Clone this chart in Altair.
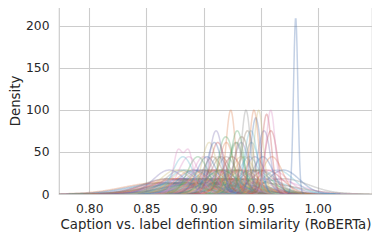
import altair as alt
import pandas as pd

# Sample values per curve (each inner list = one label's similarity samples),
# grouped by the KDE bandwidth that reproduces the curve widths in the picture.
spike_curves = [[0.9807]]
narrow_curves = [
    [0.9238], [0.9265, 0.9325], [0.9540, 0.9565], [0.9500, 0.9560],
    [0.9355, 0.9415], [0.8775, 0.8870], [0.9372], [0.9483],
    [0.9385, 0.9445], [0.9440, 0.9475], [0.9442], [0.9160, 0.9230],
    [0.9560, 0.9620], [0.9080, 0.9140], [0.9300, 0.9370], [0.9588],
]
medium_curves = [
    [0.9280], [0.9050], [0.9420], [0.9095], [0.9200], [0.9290],
    [0.9125], [0.9330],
]
mid_curves = [
    [0.9155], [0.9000], [0.9200], [0.9330], [0.9400], [0.9520],
    [0.9600], [0.8950], [0.9250], [0.9450], [0.9080], [0.8870],
    [0.9130], [0.9360], [0.8820], [0.9030],
]
wide_curves = [
    [0.8900], [0.9000], [0.9100], [0.9200], [0.9300], [0.9400],
    [0.9500], [0.8850], [0.9050], [0.9150], [0.9350], [0.9450],
    [0.9550], [0.8950], [0.9250], [0.9600], [0.8800], [0.9180],
    [0.9650], [0.9700], [0.9020], [0.9280], [0.9120], [0.8980],
    [0.9420], [0.9220], [0.9080], [0.8760], [0.8830], [0.8920],
    [0.9060], [0.9160], [0.9320], [0.8700], [0.9480],
]
broad_curves = [
    [0.8800], [0.8900], [0.9000], [0.9100], [0.9200], [0.9300],
    [0.9400], [0.8700], [0.8950], [0.9250], [0.9050], [0.9150],
    [0.9350], [0.9500], [0.8850], [0.8750], [0.9080], [0.9180],
    [0.8980], [0.9280], [0.9600], [0.9700], [0.8880, 0.9300],
    [0.9000, 0.9450], [0.8800, 0.9200], [0.9120], [0.9020],
    [0.8780], [0.8830], [0.8930], [0.9070], [0.8680], [0.9220],
]
vbroad_curves = [
    [0.8700], [0.8800], [0.8900], [0.9000], [0.9100], [0.9200],
    [0.9500], [0.8750], [0.8850], [0.8950], [0.9050], [0.8650],
    [0.8600], [0.8820],
]

groups = [
    ("spike", spike_curves, 0.0019),
    ("narrow", narrow_curves, 0.004),
    ("medium", medium_curves, 0.0065),
    ("mid", mid_curves, 0.009),
    ("wide", wide_curves, 0.014),
    ("broad", broad_curves, 0.022),
    ("vbroad", vbroad_curves, 0.030),
]

rows = []
k = 0
for gname, curves, _bw in groups:
    for samples in curves:
        for v in samples:
            rows.append({"curve": f"c{k:03d}", "value": v, "grp": gname})
        k += 1
df = pd.DataFrame(rows)

palette = ["#4C72B0", "#DD8452", "#55A868", "#C44E52", "#8172B3",
           "#937860", "#DA8BC3", "#8C8C8C", "#CCB974", "#64B5CD"]
domain = sorted(df["curve"].unique())

x_scale = alt.Scale(domain=[0.7735, 1.0475], nice=False, zero=False)
y_scale = alt.Scale(domain=[0, 222.6], nice=False)
c_scale = alt.Scale(domain=domain, range=palette)

base = alt.Chart(df)
layers = []
# draw broad curves first, narrow ones on top
for gname, curves, bw in reversed(groups):
    layer = (
        base.transform_filter(alt.datum.grp == gname)
        .transform_density("value", groupby=["curve"], bandwidth=bw,
                           extent=[0.77, 1.05], steps=600,
                           as_=["value", "density"])
        .transform_filter("datum.density > 0.05")
        .mark_line(opacity=0.33, strokeWidth=1.5, clip=True)
        .encode(
            x=alt.X("value:Q", scale=x_scale,
                    axis=alt.Axis(values=[0.80, 0.85, 0.90, 0.95, 1.00], format=".2f",
                                  title="Caption vs. label defintion similarity (RoBERTa)")),
            y=alt.Y("density:Q", scale=y_scale,
                    axis=alt.Axis(values=[0, 50, 100, 150, 200], title="Density")),
            color=alt.Color("curve:N", legend=None, scale=c_scale),
            detail="curve:N",
        )
    )
    layers.append(layer)

chart = alt.layer(*layers).properties(
    width=313, height=187,
    autosize=alt.AutoSizeParams(type="none"),
    padding={"left": 51, "top": -1, "right": 0, "bottom": 46},
).configure_view(
    stroke="#cccccc", strokeWidth=1.2
).configure_axis(
    grid=True, gridColor="#cccccc", gridWidth=1.1,
    domain=False, ticks=False,
    labelFont="DejaVu Sans", titleFont="DejaVu Sans",
    labelFontSize=12.3, titleFontSize=13.3,
    labelColor="#262626", titleColor="#262626", titleFontWeight="normal",
).configure_axisX(
    labelPadding=8, titlePadding=3
).configure_axisY(
    labelPadding=10, titlePadding=3
)

chart.save("out.html", embed_options={"renderer": "svg", "actions": False})
